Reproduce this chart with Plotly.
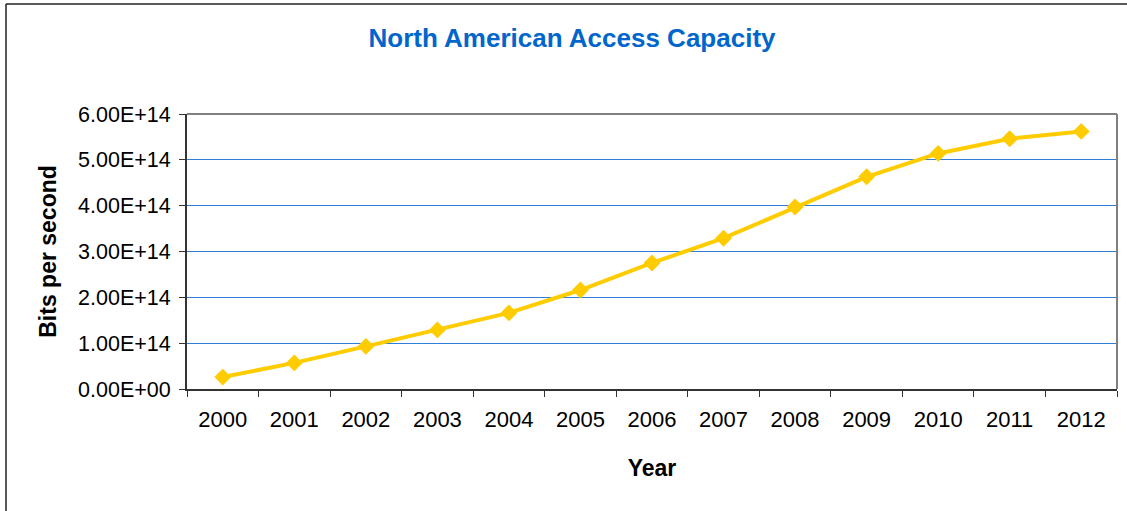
import plotly.graph_objects as go

# Annual access capacity, bits per second
years = ["2000", "2001", "2002", "2003", "2004", "2005", "2006",
         "2007", "2008", "2009", "2010", "2011", "2012"]
capacity = [0.26e14, 0.57e14, 0.93e14, 1.29e14, 1.66e14, 2.16e14, 2.75e14,
            3.29e14, 3.97e14, 4.63e14, 5.14e14, 5.46e14, 5.62e14]

y_tick_values = [0, 1e14, 2e14, 3e14, 4e14, 5e14, 6e14]
y_tick_labels = ["0.00E+00", "1.00E+14", "2.00E+14", "3.00E+14",
                 "4.00E+14", "5.00E+14", "6.00E+14"]

FONT = "Liberation Sans, Arial, sans-serif"
W, H = 1127, 511
L, R, T, B = 187, 10, 114, 122

fig = go.Figure(go.Scatter(
    x=years, y=capacity, mode="lines+markers",
    line=dict(color="#FFCC00", width=4),
    marker=dict(symbol="diamond", size=13, color="#FFCC00"),
    showlegend=False, hoverinfo="x+y",
))

# paper coordinates of the outer chart frame
ph = H - T - B
pw = W - L - R
frame_left = (6 - L) / pw
frame_top = 1 + (T - 4) / ph
frame_bottom = -(B + 5) / ph
frame_right = 1 + (R + 5) / pw

fig.update_layout(
    template="none",
    width=W, height=H,
    margin=dict(l=L, r=R, t=T, b=B, autoexpand=False),
    paper_bgcolor="white", plot_bgcolor="white",
    font=dict(family=FONT, color="black"),
    title=dict(text="<b>North American Access Capacity</b>",
               font=dict(size=26, color="#0066CC", family=FONT),
               xref="container", yref="container",
               x=572 / W, y=1 - 38 / H, xanchor="center", yanchor="middle"),
    xaxis=dict(
        type="category", tickson="boundaries",
        range=[-0.5, len(years) - 0.5],
        showline=True, linecolor="#333333", linewidth=2,
        ticks="outside", ticklen=6, tickcolor="#333333", tickwidth=1,
        ticklabelstandoff=10,
        tickfont=dict(size=22, family=FONT),
        showgrid=False, zeroline=False,
        title=dict(text="<b>Year</b>", font=dict(size=23, family=FONT), standoff=28),
    ),
    yaxis=dict(
        range=[0, 6e14],
        tickvals=y_tick_values, ticktext=y_tick_labels,
        showline=True, linecolor="#333333", linewidth=2,
        ticks="outside", ticklen=6, tickcolor="#333333", tickwidth=1,
        ticklabelstandoff=4,
        tickfont=dict(size=21.5, family=FONT),
        showgrid=True, gridcolor="#2F7FD8", gridwidth=1,
        zeroline=False,
        title=dict(text="<b>Bits per second</b>", font=dict(size=23, family=FONT), standoff=15),
    ),
    shapes=[
        # gray top and right border of the plotting area
        dict(type="line", xref="paper", yref="paper", x0=0, x1=1, y0=1, y1=1,
             line=dict(color="#808080", width=2)),
        dict(type="line", xref="paper", yref="paper", x0=1, x1=1, y0=0, y1=1,
             line=dict(color="#808080", width=2)),
        # outer chart frame
        dict(type="line", xref="paper", yref="paper", x0=frame_left, x1=frame_right,
             y0=frame_top, y1=frame_top, line=dict(color="#222222", width=1.5)),
        dict(type="line", xref="paper", yref="paper", x0=frame_left, x1=frame_left,
             y0=frame_bottom, y1=frame_top, line=dict(color="#222222", width=1.5)),
    ],
)

fig.write_html("out.html")
